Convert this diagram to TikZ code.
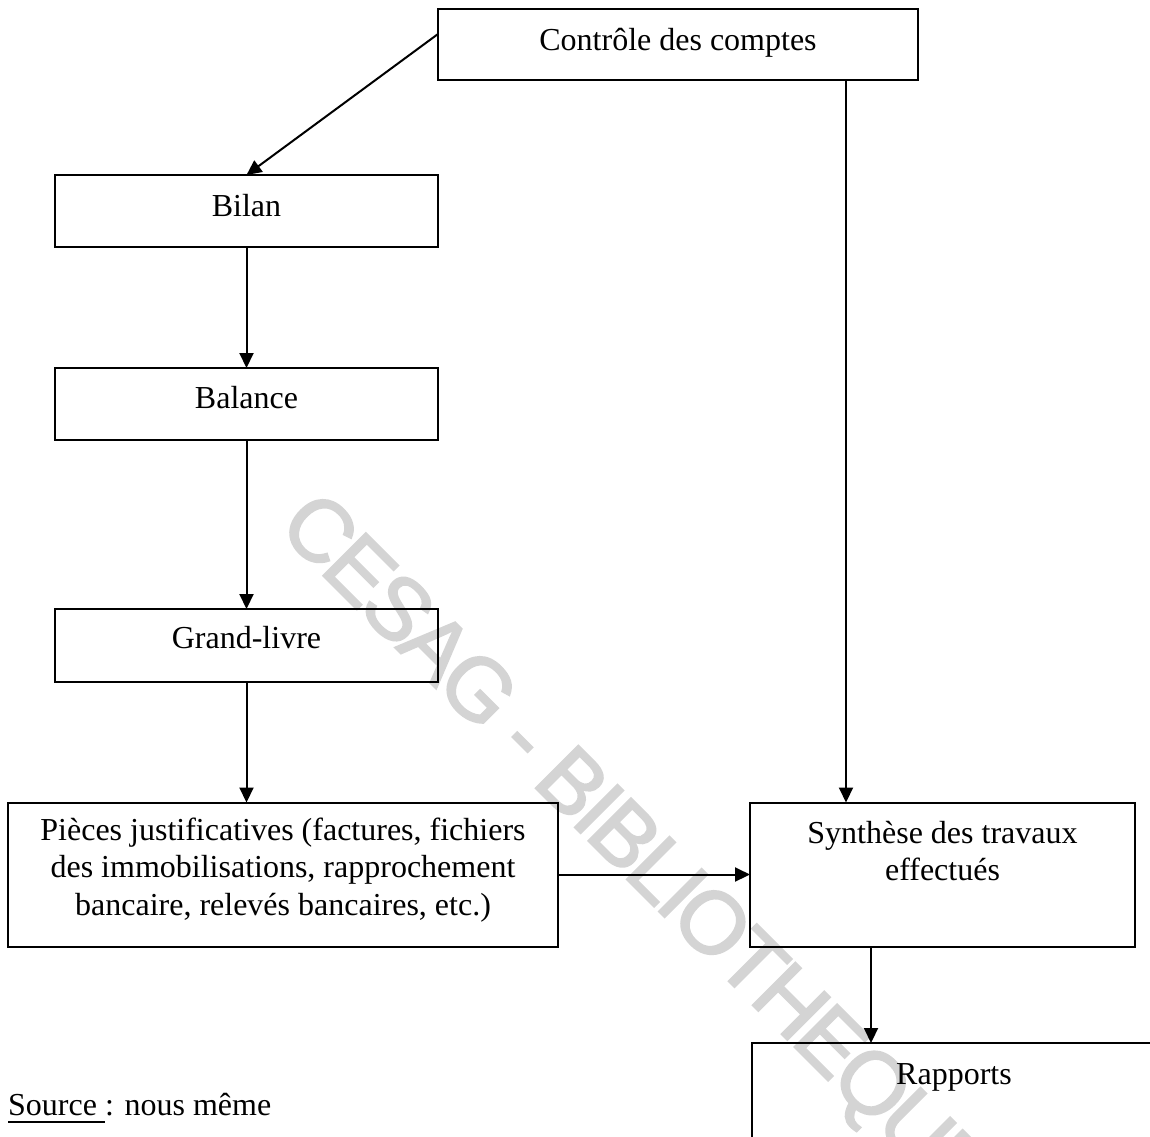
\documentclass[tikz,border=0pt]{standalone}
\usepackage{fontspec}
\setmainfont{Liberation Serif}
\newfontfamily\stampfont[LetterSpace=-5,FakeBold=2]{Liberation Sans}
\usetikzlibrary{arrows.meta}
\definecolor{stampgray}{RGB}{212,212,212}
\begin{document}
\begin{tikzpicture}[x=1pt,y=-1pt,
  box/.style={draw=black, line width=2pt, rectangle, inner sep=0pt, outer sep=0pt},
  txt/.style={font=\fontsize{32}{37.5}\selectfont, inner sep=0pt, anchor=base},
  arr/.style={line width=2pt, -{Triangle[length=15pt,width=14pt]}},
  stamp/.style={font=\stampfont\fontsize{88}{88}\selectfont, text=stampgray, inner sep=0pt, rotate=-45}]
\useasboundingbox (0,0) rectangle (1150,1136);
\clip (0,0) rectangle (1150,1136);
\fill[white] (0,0) rectangle (1150,1136);

% library stamp behind the chart
\node[stamp] (stamp) at (632,853) {CESAG - BIBLIOTHEQUE};

% boxes
\node[box, minimum width=480pt, minimum height=71pt] (ctrl)  at (678,44.5) {};
\node[box, minimum width=383pt, minimum height=72pt] (bilan) at (246.5,211) {};
\node[box, minimum width=383pt, minimum height=72pt] (bal)   at (246.5,404) {};
\node[box, minimum width=383pt, minimum height=73pt] (gl)    at (246.5,645.5) {};
\node[box, minimum width=550pt, minimum height=144pt] (pj)   at (283,874.5) {};
\node[box, minimum width=385pt, minimum height=144pt] (syn)  at (942.5,874.5) {};
\node[box, minimum width=410pt, minimum height=160pt] (rap)  at (957,1123) {};

% box texts
\node[txt] (ctrl-t)  at (678,50) {Contrôle des comptes};
\node[txt] (bilan-t) at (246.5,216) {Bilan};
\node[txt] (bal-t)   at (246.5,408) {Balance};
\node[txt] (gl-t)    at (246.5,648) {Grand-livre};
\node[txt] (pj-t)    at (283,840) {\begin{tabular}[t]{@{}c@{}}Pièces justificatives (factures, fichiers\\des immobilisations, rapprochement\\bancaire, relevés bancaires, etc.)\end{tabular}};
\node[txt] (syn-t)   at (942.5,843) {\begin{tabular}[t]{@{}c@{}}Synthèse des travaux\\effectués\end{tabular}};
\node[txt] (rap-t)   at (954,1084) {Rapports};
\node[txt, anchor=base west] (src) at (8,1115)
  {\setbox0\hbox{Source~}\rlap{\rule[-7.5pt]{\wd0}{2pt}}\box0: nous même};

% connectors
\coordinate (ctrl-out) at ([yshift=10.5pt]ctrl.west);
\coordinate (ctrl-foot) at ([xshift=-72pt]ctrl.south east);
\coordinate (syn-foot) at ([xshift=-71.5pt]syn.south);
\draw[arr] (ctrl-out) -- (bilan.north);
\draw[arr] (bilan.south) -- (bal.north);
\draw[arr] (bal.south) -- (gl.north);
\draw[arr] (gl.south) -- (gl.south |- pj.north);
\draw[arr] (pj.east) -- (syn.west);
\draw[arr] (ctrl-foot) -- (ctrl-foot |- syn.north);
\draw[arr] (syn-foot) -- (syn-foot |- rap.north);
\end{tikzpicture}
\end{document}
